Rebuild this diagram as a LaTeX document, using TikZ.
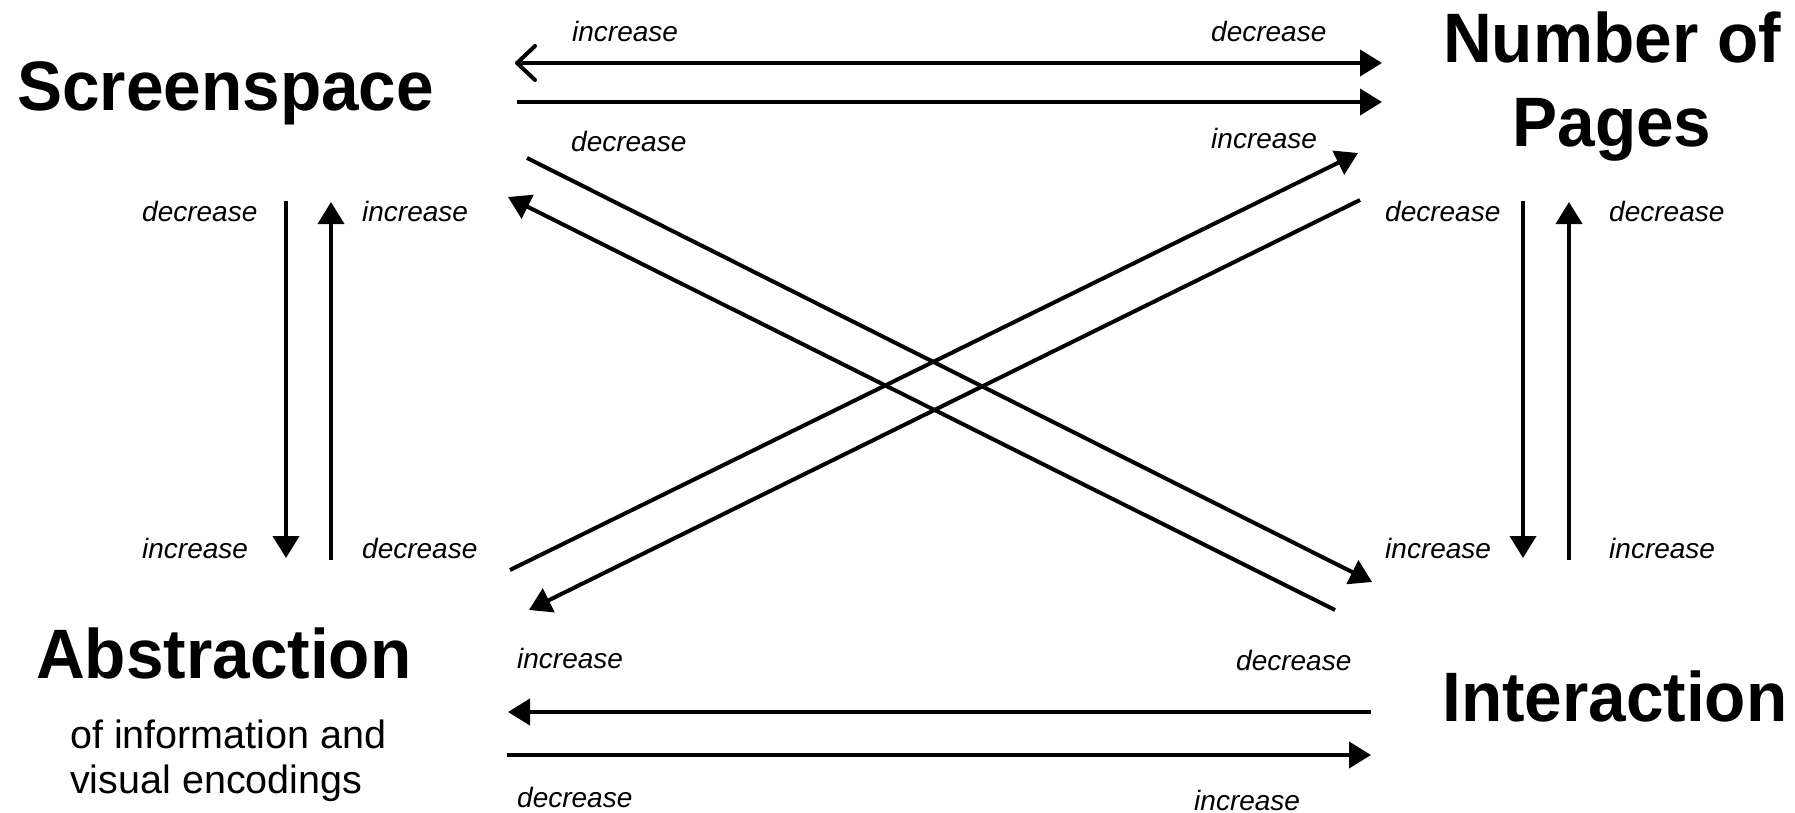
\documentclass[tikz,border=0pt]{standalone}
\usepackage{fontspec}
\usetikzlibrary{arrows.meta}
\newfontfamily\headfont[FakeStretch=0.965]{Liberation Sans}
\newfontfamily\lblfont{Liberation Sans}
\tikzset{
  head/.style={inner sep=0pt, anchor=base west, font=\headfont\bfseries\fontsize{70}{84}\selectfont},
  sub/.style={inner sep=0pt, anchor=base west, font=\lblfont\fontsize{39.5}{45}\selectfont},
  lbl/.style={inner sep=0pt, anchor=base west, font=\lblfont\itshape\fontsize{28}{32}\selectfont},
  conn/.style={line width=4pt, -{Triangle[length=22pt,width=26pt]}},
  plain/.style={line width=4pt},
}
\begin{document}
\begin{tikzpicture}[x=1pt,y=-1pt]
\useasboundingbox (0,0) rectangle (1795,813);
% headings
\node[head] (screen) at (17,111) {Screenspace};
\node[head, anchor=base, align=center] (pages) at (1612,147) {Number of\\Pages};
\node[head] (abstr) at (36,678) {Abstraction};
\node[sub] (abstrsub1) at (70,748) {of information and};
\node[sub] (abstrsub2) at (70,793) {visual encodings};
\node[head] (inter) at (1442,721) {Interaction};
% coordinates
\coordinate (t1l) at (515,63);  \coordinate (t1r) at (1382,63);
\coordinate (t2l) at (517,102); \coordinate (t2r) at (1382,102);
\coordinate (a1) at (527,158);  \coordinate (a2) at (1372,582);
\coordinate (b1) at (1335,610); \coordinate (b2) at (508,197);
\coordinate (c1) at (510,570);  \coordinate (c2) at (1358,153);
\coordinate (d1) at (1360,200); \coordinate (d2) at (529,610);
\coordinate (lv1t) at (286,201); \coordinate (lv1b) at (286,558);
\coordinate (lv2t) at (331,202); \coordinate (lv2b) at (331,560);
\coordinate (rv1t) at (1523,201); \coordinate (rv1b) at (1523,558);
\coordinate (rv2t) at (1569,202); \coordinate (rv2b) at (1569,560);
\coordinate (bo1r) at (1371,712); \coordinate (bo1l) at (508,712);
\coordinate (bo2l) at (507,755); \coordinate (bo2r) at (1371,755);
% top arrows
\draw[line width=4pt, {Straight Barb[length=18pt,width=34pt,line cap=round,line join=round]}-{Triangle[length=22pt,width=26pt]}] (t1l) -- (t1r);
\draw[conn] (t2l) -- (t2r);
% diagonals
\draw[conn] (a1) -- (a2);
\draw[conn] (b1) -- (b2);
\draw[conn] (c1) -- (c2);
\draw[conn] (d1) -- (d2);
% verticals
\draw[conn] (lv1t) -- (lv1b);
\draw[conn] (lv2b) -- (lv2t);
\draw[conn] (rv1t) -- (rv1b);
\draw[conn] (rv2b) -- (rv2t);
% bottom arrows
\draw[conn] (bo1r) -- (bo1l);
\draw[conn] (bo2l) -- (bo2r);
% labels
\node[lbl] (l1) at (572,42) {increase};
\node[lbl] (l2) at (1211,42) {decrease};
\node[lbl] (l3) at (571,152) {decrease};
\node[lbl] (l4) at (1211,149) {increase};
\node[lbl] (l5) at (142,222) {decrease};
\node[lbl] (l6) at (362,222) {increase};
\node[lbl] (l7) at (142,558) {increase};
\node[lbl] (l8) at (362,558) {decrease};
\node[lbl] (l9) at (1385,222) {decrease};
\node[lbl] (l10) at (1609,222) {decrease};
\node[lbl] (l11) at (1385,558) {increase};
\node[lbl] (l12) at (1609,558) {increase};
\node[lbl] (l13) at (517,668) {increase};
\node[lbl] (l14) at (1236,670) {decrease};
\node[lbl] (l15) at (517,807) {decrease};
\node[lbl] (l16) at (1194,810) {increase};
\end{tikzpicture}
\end{document}
